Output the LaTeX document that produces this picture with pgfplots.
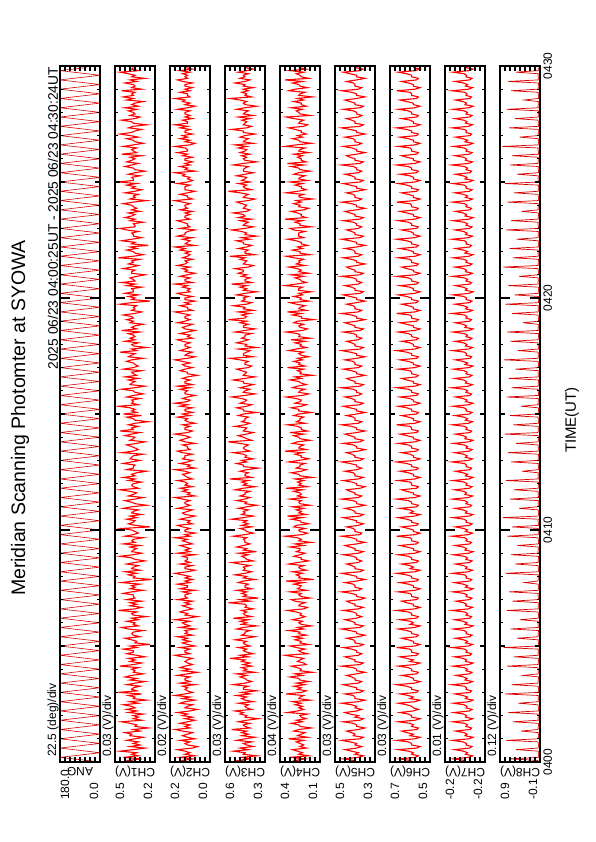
\documentclass[border=0pt]{standalone}
\usepackage{fontspec}
\setmainfont{Liberation Sans}
\usepackage{pgfplots}
\pgfplotsset{compat=1.18}
\usepackage{pgfplotstable}

\pgfplotstableread{
a c1 c2 c3 c4 c5 c6 c7 c8
0 0.35 0.11 0.44 0.24 0.39 0.57 -0.204 -0.06
60 0.39 0.13 0.49 0.29 0.41 0.59 -0.199 -0.05
120 0.31 0.09 0.42 0.21 0.47 0.65 -0.177 0.62
180 0.42 0.14 0.47 0.33 0.38 0.56 -0.207 -0.06
120 0.33 0.08 0.38 0.18 0.35 0.54 -0.215 -0.07
60 0.37 0.12 0.46 0.26 0.40 0.58 -0.201 -0.06
0 0.34 0.10 0.45 0.23 0.38 0.57 -0.205 -0.06
60 0.44 0.12 0.52 0.27 0.42 0.60 -0.197 -0.06
120 0.36 0.15 0.43 0.31 0.46 0.66 -0.179 0.48
180 0.29 0.09 0.48 0.20 0.39 0.55 -0.209 -0.05
120 0.38 0.07 0.40 0.25 0.36 0.53 -0.214 -0.06
60 0.32 0.11 0.44 0.22 0.40 0.58 -0.202 -0.07
0 0.36 0.12 0.46 0.25 0.39 0.58 -0.203 -0.06
60 0.33 0.10 0.41 0.28 0.43 0.60 -0.196 -0.05
120 0.40 0.14 0.50 0.22 0.48 0.67 -0.175 0.71
180 0.35 0.08 0.45 0.34 0.37 0.56 -0.208 -0.06
120 0.30 0.11 0.39 0.19 0.35 0.53 -0.216 -0.06
60 0.38 0.13 0.47 0.27 0.41 0.59 -0.200 -0.07
0 0.37 0.11 0.43 0.24 0.40 0.57 -0.204 -0.06
60 0.41 0.09 0.47 0.21 0.42 0.61 -0.198 -0.06
120 0.32 0.13 0.44 0.30 0.45 0.64 -0.181 0.35
180 0.36 0.16 0.53 0.26 0.38 0.55 -0.210 -0.05
120 0.27 0.10 0.42 0.16 0.34 0.54 -0.213 -0.06
60 0.35 0.12 0.45 0.25 0.39 0.58 -0.202 -0.06
0 0.34 0.10 0.46 0.26 0.39 0.57 -0.205 -0.07
60 0.38 0.14 0.42 0.32 0.41 0.59 -0.199 -0.06
120 0.43 0.11 0.49 0.23 0.47 0.66 -0.176 0.55
180 0.31 0.08 0.44 0.28 0.37 0.56 -0.207 -0.06
120 0.36 0.12 0.37 0.20 0.35 0.53 -0.215 -0.05
60 0.33 0.09 0.45 0.24 0.40 0.58 -0.201 -0.06
0 0.36 0.13 0.44 0.25 0.38 0.58 -0.203 -0.06
60 0.30 0.11 0.48 0.19 0.43 0.60 -0.197 -0.06
120 0.39 0.15 0.46 0.35 0.46 0.65 -0.178 0.66
180 0.34 0.10 0.51 0.27 0.39 0.57 -0.209 -0.06
120 0.40 0.07 0.41 0.22 0.36 0.54 -0.214 -0.07
60 0.35 0.12 0.44 0.26 0.40 0.57 -0.202 -0.06
0 0.37 0.11 0.45 0.23 0.39 0.58 -0.204 -0.06
60 0.42 0.09 0.43 0.29 0.42 0.61 -0.198 -0.05
120 0.33 0.14 0.49 0.24 0.48 0.66 -0.177 0.42
180 0.38 0.12 0.40 0.31 0.38 0.56 -0.208 -0.06
120 0.28 0.08 0.45 0.17 0.34 0.53 -0.216 -0.06
60 0.36 0.13 0.47 0.26 0.40 0.59 -0.201 -0.06
0 0.35 0.10 0.44 0.25 0.40 0.57 -0.205 -0.06
60 0.39 0.16 0.50 0.22 0.41 0.60 -0.196 -0.06
120 0.31 0.12 0.42 0.36 0.46 0.65 -0.180 0.74
180 0.45 0.09 0.47 0.24 0.37 0.55 -0.210 -0.05
120 0.34 0.11 0.38 0.20 0.35 0.54 -0.213 -0.06
60 0.37 0.12 0.46 0.27 0.39 0.58 -0.202 -0.07
0 0.36 0.11 0.46 0.24 0.39 0.58 -0.203 -0.06
60 0.32 0.13 0.43 0.30 0.43 0.61 -0.199 -0.06
120 0.40 0.08 0.52 0.21 0.47 0.67 -0.174 0.58
180 0.35 0.14 0.45 0.28 0.38 0.56 -0.207 -0.06
120 0.29 0.10 0.41 0.18 0.36 0.53 -0.215 -0.05
60 0.38 0.12 0.44 0.25 0.40 0.57 -0.200 -0.06
0 0.34 0.12 0.45 0.26 0.40 0.57 -0.204 -0.06
60 0.41 0.10 0.48 0.33 0.42 0.59 -0.197 -0.07
120 0.37 0.15 0.44 0.23 0.45 0.64 -0.182 0.30
180 0.30 0.11 0.50 0.29 0.39 0.55 -0.209 -0.06
120 0.36 0.07 0.39 0.15 0.34 0.54 -0.214 -0.06
60 0.35 0.13 0.46 0.25 0.39 0.58 -0.202 -0.06
0 0.37 0.10 0.44 0.24 0.39 0.58 -0.205 -0.06
60 0.33 0.14 0.47 0.27 0.41 0.60 -0.198 -0.05
120 0.44 0.12 0.41 0.32 0.48 0.66 -0.176 0.69
180 0.36 0.09 0.46 0.20 0.37 0.56 -0.208 -0.06
120 0.31 0.11 0.42 0.22 0.35 0.53 -0.216 -0.06
60 0.38 0.12 0.47 0.27 0.40 0.59 -0.201 -0.06
0 0.35 0.11 0.45 0.25 0.40 0.57 -0.203 -0.07
60 0.39 0.09 0.54 0.22 0.43 0.61 -0.196 -0.06
120 0.29 0.13 0.43 0.30 0.46 0.65 -0.179 0.52
180 0.34 0.16 0.48 0.37 0.38 0.55 -0.210 -0.06
120 0.40 0.10 0.40 0.19 0.36 0.54 -0.213 -0.05
60 0.36 0.12 0.44 0.24 0.39 0.58 -0.202 -0.06
0 0.36 0.12 0.46 0.26 0.39 0.58 -0.204 -0.06
60 0.42 0.10 0.44 0.21 0.42 0.59 -0.199 -0.06
120 0.34 0.14 0.49 0.28 0.47 0.67 -0.175 0.77
180 0.38 0.08 0.42 0.33 0.37 0.56 -0.207 -0.06
120 0.26 0.11 0.45 0.18 0.35 0.53 -0.215 -0.07
60 0.35 0.13 0.46 0.25 0.40 0.57 -0.201 -0.06
0 0.34 0.10 0.44 0.24 0.40 0.57 -0.205 -0.06
60 0.37 0.13 0.51 0.29 0.41 0.60 -0.197 -0.06
120 0.41 0.11 0.45 0.23 0.45 0.64 -0.181 0.45
180 0.32 0.15 0.39 0.30 0.38 0.55 -0.209 -0.05
120 0.36 0.09 0.47 0.20 0.34 0.54 -0.214 -0.06
60 0.37 0.12 0.45 0.26 0.39 0.58 -0.202 -0.06
0 0.36 0.11 0.45 0.25 0.39 0.58 -0.203 -0.06
60 0.30 0.12 0.42 0.34 0.43 0.61 -0.198 -0.07
120 0.39 0.08 0.50 0.22 0.48 0.66 -0.177 0.61
180 0.43 0.14 0.46 0.27 0.37 0.56 -0.208 -0.06
120 0.33 0.10 0.38 0.16 0.35 0.53 -0.216 -0.06
60 0.36 0.12 0.47 0.24 0.40 0.59 -0.200 -0.05
0 0.35 0.13 0.44 0.26 0.40 0.57 -0.204 -0.06
60 0.40 0.10 0.48 0.23 0.42 0.59 -0.196 -0.06
120 0.33 0.16 0.43 0.31 0.46 0.65 -0.180 0.38
180 0.37 0.11 0.52 0.25 0.39 0.55 -0.210 -0.06
120 0.28 0.07 0.41 0.21 0.36 0.54 -0.213 -0.06
60 0.36 0.12 0.45 0.25 0.39 0.58 -0.202 -0.07
0 0.37 0.11 0.46 0.24 0.39 0.58 -0.205 -0.06
60 0.34 0.14 0.44 0.28 0.41 0.60 -0.199 -0.05
120 0.45 0.12 0.47 0.35 0.47 0.67 -0.174 0.70
180 0.35 0.09 0.40 0.22 0.38 0.56 -0.207 -0.06
120 0.31 0.11 0.45 0.19 0.35 0.53 -0.215 -0.06
60 0.38 0.13 0.44 0.26 0.40 0.57 -0.201 -0.06
0 0.34 0.10 0.45 0.25 0.40 0.57 -0.203 -0.06
60 0.38 0.12 0.55 0.21 0.43 0.61 -0.197 -0.06
120 0.31 0.09 0.42 0.29 0.45 0.64 -0.182 0.56
180 0.40 0.15 0.48 0.32 0.37 0.55 -0.209 -0.07
120 0.35 0.11 0.37 0.17 0.34 0.54 -0.214 -0.06
60 0.36 0.12 0.46 0.24 0.39 0.58 -0.202 -0.06
0 0.36 0.12 0.44 0.26 0.39 0.58 -0.204 -0.05
60 0.42 0.10 0.47 0.24 0.42 0.59 -0.198 -0.06
120 0.37 0.13 0.44 0.33 0.48 0.66 -0.176 0.64
180 0.30 0.08 0.50 0.20 0.38 0.56 -0.208 -0.06
120 0.38 0.14 0.41 0.27 0.36 0.53 -0.216 -0.06
60 0.35 0.11 0.45 0.25 0.40 0.57 -0.201 -0.07
0 0.37 0.11 0.45 0.24 0.40 0.57 -0.205 -0.06
60 0.32 0.15 0.43 0.30 0.41 0.60 -0.196 -0.06
120 0.43 0.10 0.49 0.22 0.46 0.65 -0.179 0.27
180 0.36 0.12 0.46 0.36 0.39 0.55 -0.210 -0.05
120 0.25 0.09 0.39 0.14 0.34 0.54 -0.213 -0.06
60 0.36 0.12 0.46 0.26 0.39 0.58 -0.202 -0.06
0 0.35 0.10 0.44 0.25 0.39 0.58 -0.203 -0.06
60 0.39 0.13 0.51 0.28 0.43 0.61 -0.199 -0.06
120 0.34 0.16 0.45 0.23 0.48 0.67 -0.175 0.73
180 0.41 0.11 0.41 0.31 0.37 0.56 -0.207 -0.06
120 0.32 0.08 0.46 0.20 0.35 0.53 -0.215 -0.07
60 0.37 0.12 0.45 0.25 0.40 0.59 -0.201 -0.06
0 0.36 0.12 0.46 0.26 0.40 0.57 -0.204 -0.06
60 0.33 0.09 0.42 0.22 0.42 0.59 -0.197 -0.05
120 0.40 0.14 0.48 0.34 0.45 0.64 -0.181 0.50
180 0.35 0.10 0.53 0.27 0.38 0.55 -0.209 -0.06
120 0.29 0.12 0.40 0.18 0.36 0.54 -0.214 -0.06
60 0.35 0.11 0.44 0.24 0.39 0.58 -0.202 -0.06
0 0.37 0.11 0.45 0.24 0.39 0.58 -0.205 -0.07
60 0.44 0.13 0.47 0.30 0.41 0.60 -0.198 -0.06
120 0.36 0.08 0.43 0.25 0.47 0.66 -0.177 0.60
180 0.31 0.15 0.49 0.21 0.38 0.56 -0.208 -0.06
120 0.37 0.10 0.38 0.28 0.35 0.53 -0.216 -0.05
60 0.36 0.12 0.46 0.25 0.40 0.57 -0.200 -0.06
0 0.34 0.10 0.44 0.25 0.40 0.57 -0.203 -0.06
60 0.38 0.12 0.50 0.33 0.43 0.61 -0.196 -0.06
120 0.32 0.14 0.46 0.22 0.46 0.65 -0.180 0.44
180 0.42 0.09 0.42 0.29 0.39 0.55 -0.210 -0.06
120 0.35 0.11 0.45 0.16 0.34 0.54 -0.213 -0.07
60 0.37 0.13 0.45 0.26 0.39 0.58 -0.202 -0.06
0 0.36 0.11 0.46 0.24 0.39 0.58 -0.204 -0.06
60 0.30 0.16 0.44 0.27 0.42 0.59 -0.199 -0.05
120 0.41 0.10 0.52 0.37 0.48 0.67 -0.174 0.68
180 0.36 0.12 0.45 0.23 0.37 0.56 -0.207 -0.06
120 0.33 0.08 0.40 0.19 0.36 0.53 -0.215 -0.06
60 0.35 0.12 0.44 0.25 0.40 0.57 -0.201 -0.06
0 0.37 0.12 0.45 0.26 0.40 0.57 -0.205 -0.06
60 0.43 0.10 0.48 0.21 0.41 0.60 -0.197 -0.06
120 0.26 0.13 0.41 0.30 0.45 0.64 -0.181 0.57
180 0.35 0.15 0.47 0.28 0.38 0.55 -0.209 -0.07
120 0.39 0.09 0.43 0.18 0.35 0.54 -0.214 -0.06
60 0.36 0.11 0.46 0.24 0.39 0.58 -0.202 -0.06
0 0.35 0.10 0.44 0.25 0.39 0.58 -0.203 -0.05
60 0.40 0.14 0.53 0.32 0.43 0.61 -0.198 -0.06
120 0.34 0.11 0.46 0.23 0.47 0.66 -0.176 0.79
180 0.38 0.08 0.40 0.35 0.37 0.56 -0.208 -0.06
120 0.31 0.12 0.47 0.20 0.35 0.53 -0.216 -0.06
60 0.37 0.13 0.45 0.26 0.40 0.59 -0.201 -0.07
0 0.36 0.11 0.46 0.24 0.40 0.57 -0.204 -0.06
60 0.33 0.09 0.43 0.28 0.42 0.59 -0.196 -0.06
120 0.42 0.15 0.49 0.22 0.46 0.65 -0.180 0.40
180 0.37 0.12 0.44 0.31 0.39 0.55 -0.210 -0.05
120 0.28 0.10 0.38 0.17 0.34 0.54 -0.213 -0.06
60 0.35 0.12 0.45 0.25 0.39 0.58 -0.202 -0.06
0 0.37 0.12 0.44 0.26 0.39 0.58 -0.205 -0.06
60 0.41 0.10 0.50 0.24 0.41 0.60 -0.199 -0.06
120 0.35 0.13 0.45 0.33 0.48 0.67 -0.175 0.63
180 0.30 0.16 0.42 0.21 0.38 0.56 -0.207 -0.07
120 0.39 0.08 0.48 0.27 0.36 0.53 -0.215 -0.06
60 0.36 0.11 0.45 0.24 0.40 0.57 -0.200 -0.06
0 0.34 0.10 0.45 0.25 0.40 0.57 -0.203 -0.06
60 0.38 0.13 0.42 0.30 0.43 0.61 -0.197 -0.05
120 0.44 0.11 0.51 0.23 0.45 0.64 -0.179 0.53
180 0.33 0.14 0.46 0.36 0.37 0.55 -0.209 -0.06
120 0.36 0.09 0.39 0.19 0.34 0.54 -0.214 -0.06
60 0.37 0.12 0.46 0.26 0.39 0.58 -0.202 -0.06
0 0.36 0.11 0.44 0.24 0.39 0.58 -0.204 -0.07
60 0.31 0.12 0.47 0.27 0.42 0.59 -0.198 -0.06
120 0.39 0.15 0.43 0.22 0.47 0.66 -0.176 0.72
180 0.35 0.09 0.54 0.29 0.38 0.56 -0.208 -0.06
120 0.42 0.11 0.41 0.15 0.35 0.53 -0.216 -0.05
60 0.35 0.12 0.45 0.25 0.40 0.57 -0.201 -0.06
0 0.37 0.13 0.45 0.26 0.40 0.57 -0.205 -0.06
60 0.34 0.10 0.43 0.32 0.41 0.60 -0.196 -0.06
120 0.28 0.12 0.48 0.24 0.46 0.65 -0.181 0.33
180 0.40 0.16 0.44 0.20 0.39 0.55 -0.210 -0.06
120 0.36 0.08 0.37 0.28 0.36 0.54 -0.213 -0.07
60 0.36 0.11 0.46 0.25 0.39 0.58 -0.202 -0.06
0 0.35 0.10 0.46 0.25 0.39 0.58 -0.203 -0.06
60 0.42 0.14 0.50 0.21 0.43 0.61 -0.199 -0.06
120 0.37 0.11 0.44 0.34 0.48 0.67 -0.174 0.59
180 0.32 0.09 0.47 0.26 0.37 0.56 -0.207 -0.05
120 0.38 0.13 0.40 0.18 0.35 0.53 -0.215 -0.06
60 0.37 0.12 0.45 0.24 0.40 0.57 -0.201 -0.06
0 0.36 0.12 0.44 0.24 0.40 0.57 -0.204 -0.06
60 0.30 0.09 0.46 0.29 0.42 0.59 -0.197 -0.07
120 0.43 0.13 0.52 0.23 0.45 0.64 -0.180 0.67
180 0.36 0.15 0.42 0.37 0.38 0.55 -0.209 -0.06
120 0.33 0.10 0.45 0.20 0.34 0.54 -0.214 -0.06
60 0.35 0.11 0.46 0.26 0.39 0.58 -0.202 -0.06
0 0.37 0.11 0.45 0.25 0.39 0.58 -0.205 -0.05
60 0.40 0.13 0.43 0.22 0.41 0.60 -0.198 -0.06
120 0.34 0.08 0.48 0.31 0.47 0.66 -0.177 0.47
180 0.29 0.12 0.55 0.27 0.37 0.56 -0.208 -0.06
120 0.38 0.14 0.41 0.17 0.35 0.53 -0.216 -0.06
60 0.36 0.12 0.44 0.25 0.40 0.57 -0.200 -0.07
0 0.35 0.10 0.46 0.26 0.40 0.57 -0.203 -0.06
60 0.41 0.12 0.49 0.30 0.43 0.61 -0.196 -0.06
120 0.37 0.16 0.44 0.22 0.46 0.65 -0.181 0.75
180 0.32 0.11 0.40 0.33 0.39 0.55 -0.210 -0.05
120 0.44 0.09 0.46 0.19 0.34 0.54 -0.213 -0.06
60 0.36 0.12 0.45 0.24 0.39 0.58 -0.202 -0.06
0 0.37 0.12 0.44 0.24 0.39 0.58 -0.204 -0.06
60 0.33 0.10 0.51 0.27 0.42 0.59 -0.199 -0.06
120 0.39 0.13 0.45 0.35 0.48 0.67 -0.175 0.54
180 0.35 0.08 0.42 0.21 0.38 0.56 -0.207 -0.07
120 0.27 0.11 0.47 0.28 0.36 0.53 -0.215 -0.06
60 0.35 0.12 0.45 0.25 0.40 0.57 -0.201 -0.06
0 0.36 0.11 0.45 0.25 0.40 0.57 -0.205 -0.06
60 0.40 0.15 0.43 0.22 0.41 0.60 -0.197 -0.05
120 0.31 0.10 0.49 0.30 0.45 0.64 -0.180 0.62
180 0.42 0.13 0.46 0.26 0.39 0.55 -0.209 -0.06
120 0.34 0.09 0.38 0.16 0.34 0.54 -0.214 -0.06
60 0.37 0.12 0.46 0.26 0.39 0.58 -0.202 -0.06
0 0.35 0.12 0.46 0.26 0.39 0.58 -0.203 -0.07
60 0.38 0.09 0.50 0.32 0.43 0.61 -0.198 -0.06
120 0.45 0.14 0.44 0.24 0.47 0.66 -0.176 0.36
180 0.33 0.11 0.41 0.20 0.37 0.56 -0.208 -0.06
120 0.37 0.16 0.48 0.29 0.35 0.53 -0.216 -0.05
60 0.36 0.11 0.45 0.25 0.40 0.57 -0.201 -0.06
0 0.37 0.10 0.44 0.24 0.40 0.57 -0.204 -0.06
60 0.32 0.13 0.47 0.28 0.42 0.59 -0.196 -0.06
120 0.40 0.11 0.53 0.36 0.46 0.65 -0.181 0.70
180 0.36 0.08 0.45 0.23 0.38 0.55 -0.210 -0.06
120 0.30 0.12 0.39 0.18 0.36 0.54 -0.213 -0.07
60 0.35 0.12 0.46 0.26 0.39 0.58 -0.202 -0.06
0 0.36 0.11 0.45 0.25 0.39 0.58 -0.205 -0.06
60 0.43 0.14 0.42 0.21 0.41 0.60 -0.199 -0.05
120 0.35 0.10 0.48 0.31 0.48 0.67 -0.174 0.58
180 0.29 0.15 0.44 0.27 0.37 0.56 -0.207 -0.06
120 0.38 0.09 0.40 0.20 0.35 0.53 -0.215 -0.06
60 0.37 0.12 0.46 0.24 0.40 0.57 -0.201 -0.06
0 0.35 0.12 0.46 0.26 0.40 0.57 -0.203 -0.06
60 0.39 0.10 0.52 0.33 0.43 0.61 -0.197 -0.07
120 0.33 0.13 0.45 0.24 0.45 0.64 -0.180 0.65
180 0.41 0.11 0.39 0.29 0.39 0.55 -0.209 -0.06
120 0.34 0.07 0.46 0.15 0.34 0.54 -0.214 -0.06
60 0.36 0.11 0.45 0.25 0.39 0.58 -0.202 -0.06
0 0.37 0.11 0.44 0.24 0.39 0.58 -0.204 -0.05
60 0.31 0.14 0.47 0.27 0.42 0.59 -0.198 -0.06
120 0.42 0.12 0.50 0.22 0.47 0.66 -0.177 0.49
180 0.36 0.09 0.43 0.35 0.38 0.56 -0.208 -0.06
120 0.33 0.12 0.41 0.21 0.36 0.53 -0.216 -0.06
60 0.35 0.13 0.45 0.26 0.40 0.57 -0.200 -0.07
0 0.36 0.10 0.45 0.25 0.40 0.57 -0.205 -0.06
60 0.40 0.13 0.43 0.30 0.41 0.60 -0.196 -0.06
120 0.37 0.16 0.48 0.23 0.46 0.65 -0.181 0.76
180 0.30 0.11 0.54 0.27 0.39 0.55 -0.210 -0.05
120 0.39 0.08 0.40 0.18 0.34 0.54 -0.213 -0.06
60 0.37 0.12 0.46 0.24 0.39 0.58 -0.202 -0.06
0 0.35 0.11 0.46 0.26 0.39 0.58 -0.203 -0.06
60 0.44 0.09 0.44 0.22 0.43 0.61 -0.199 -0.06
120 0.34 0.14 0.42 0.34 0.48 0.67 -0.175 0.43
180 0.37 0.12 0.49 0.28 0.37 0.56 -0.207 -0.07
120 0.28 0.10 0.38 0.20 0.35 0.53 -0.215 -0.06
60 0.36 0.12 0.45 0.25 0.40 0.57 -0.201 -0.06
0 0.37 0.12 0.44 0.24 0.40 0.57 -0.204 -0.06
60 0.33 0.10 0.50 0.29 0.42 0.59 -0.197 -0.05
120 0.41 0.13 0.46 0.21 0.45 0.64 -0.180 0.61
180 0.35 0.15 0.43 0.32 0.38 0.55 -0.209 -0.06
120 0.38 0.09 0.47 0.17 0.36 0.54 -0.214 -0.06
60 0.35 0.11 0.45 0.26 0.39 0.58 -0.202 -0.06
0 0.36 0.10 0.45 0.25 0.39 0.58 -0.205 -0.07
60 0.39 0.14 0.41 0.27 0.41 0.60 -0.198 -0.06
120 0.32 0.11 0.51 0.36 0.47 0.66 -0.176 0.69
180 0.43 0.08 0.45 0.23 0.37 0.56 -0.208 -0.06
120 0.34 0.12 0.39 0.19 0.35 0.53 -0.216 -0.05
60 0.37 0.13 0.46 0.25 0.40 0.57 -0.200 -0.06
0 0.35 0.11 0.46 0.26 0.40 0.57 -0.203 -0.06
60 0.30 0.09 0.43 0.22 0.43 0.61 -0.196 -0.06
120 0.38 0.15 0.48 0.30 0.46 0.65 -0.181 0.31
180 0.36 0.12 0.44 0.27 0.39 0.55 -0.210 -0.06
120 0.40 0.10 0.55 0.14 0.34 0.54 -0.213 -0.07
60 0.36 0.12 0.45 0.24 0.39 0.58 -0.202 -0.06
0 0.37 0.12 0.44 0.24 0.39 0.58 -0.204 -0.06
60 0.42 0.10 0.47 0.31 0.42 0.59 -0.199 -0.05
120 0.35 0.13 0.42 0.24 0.48 0.67 -0.174 0.57
180 0.31 0.16 0.49 0.35 0.38 0.56 -0.207 -0.06
120 0.37 0.09 0.40 0.20 0.36 0.53 -0.215 -0.06
60 0.35 0.11 0.46 0.26 0.40 0.57 -0.201 -0.06
0 0.36 0.11 0.45 0.25 0.40 0.57 -0.205 -0.06
60 0.34 0.14 0.52 0.21 0.41 0.60 -0.197 -0.06
120 0.44 0.10 0.44 0.28 0.45 0.64 -0.180 0.73
180 0.37 0.12 0.41 0.33 0.39 0.55 -0.209 -0.07
120 0.26 0.08 0.47 0.18 0.34 0.54 -0.214 -0.06
60 0.37 0.12 0.45 0.25 0.39 0.58 -0.202 -0.06
0 0.35 0.12 0.46 0.24 0.39 0.58 -0.203 -0.05
60 0.39 0.09 0.43 0.30 0.43 0.61 -0.198 -0.06
120 0.33 0.13 0.50 0.23 0.47 0.66 -0.176 0.51
180 0.41 0.15 0.45 0.26 0.37 0.56 -0.208 -0.06
120 0.36 0.10 0.38 0.16 0.35 0.53 -0.216 -0.06
60 0.36 0.11 0.46 0.26 0.40 0.57 -0.201 -0.06
0 0.37 0.10 0.44 0.26 0.40 0.57 -0.204 -0.07
60 0.31 0.13 0.48 0.23 0.42 0.59 -0.196 -0.06
120 0.40 0.11 0.44 0.37 0.46 0.65 -0.181 0.66
180 0.35 0.16 0.53 0.28 0.38 0.55 -0.210 -0.06
120 0.43 0.09 0.41 0.20 0.36 0.54 -0.213 -0.05
60 0.35 0.12 0.45 0.24 0.39 0.58 -0.202 -0.06
0 0.36 0.12 0.45 0.25 0.39 0.58 -0.205 -0.06
60 0.38 0.10 0.42 0.29 0.41 0.60 -0.199 -0.06
120 0.34 0.14 0.47 0.22 0.48 0.67 -0.175 0.40
180 0.29 0.11 0.44 0.32 0.37 0.56 -0.207 -0.06
120 0.37 0.08 0.49 0.18 0.35 0.53 -0.215 -0.07
60 0.37 0.12 0.46 0.26 0.40 0.57 -0.201 -0.06
0 0.35 0.11 0.46 0.24 0.40 0.57 -0.203 -0.06
60 0.42 0.13 0.51 0.27 0.43 0.61 -0.197 -0.05
120 0.37 0.10 0.43 0.34 0.45 0.64 -0.180 0.78
180 0.33 0.15 0.40 0.21 0.39 0.55 -0.209 -0.06
120 0.39 0.12 0.46 0.28 0.34 0.54 -0.214 -0.06
60 0.36 0.11 0.45 0.25 0.39 0.58 -0.202 -0.06
0 0.37 0.12 0.44 0.26 0.39 0.58 -0.204 -0.06
60 0.32 0.09 0.48 0.22 0.42 0.59 -0.198 -0.07
120 0.45 0.13 0.45 0.30 0.47 0.66 -0.177 0.55
180 0.36 0.11 0.54 0.36 0.38 0.56 -0.208 -0.06
120 0.30 0.10 0.39 0.17 0.36 0.53 -0.216 -0.06
60 0.35 0.12 0.45 0.25 0.40 0.57 -0.200 -0.05
0 0.36 0.10 0.45 0.25 0.40 0.57 -0.205 -0.06
60 0.40 0.14 0.43 0.31 0.41 0.60 -0.196 -0.06
120 0.34 0.12 0.49 0.23 0.46 0.65 -0.181 0.63
180 0.38 0.16 0.44 0.27 0.39 0.55 -0.210 -0.06
120 0.27 0.08 0.41 0.19 0.34 0.54 -0.213 -0.07
60 0.37 0.12 0.46 0.24 0.39 0.58 -0.202 -0.06
0 0.35 0.11 0.46 0.24 0.39 0.58 -0.203 -0.06
60 0.43 0.10 0.50 0.28 0.43 0.61 -0.199 -0.06
120 0.37 0.13 0.42 0.35 0.48 0.67 -0.174 0.46
180 0.31 0.09 0.47 0.22 0.37 0.56 -0.207 -0.05
120 0.36 0.15 0.38 0.26 0.35 0.53 -0.215 -0.06
60 0.36 0.12 0.45 0.26 0.40 0.57 -0.201 -0.06
0 0.37 0.12 0.44 0.26 0.40 0.57 -0.204 -0.06
60 0.33 0.11 0.47 0.21 0.42 0.59 -0.197 -0.06
120 0.40 0.08 0.53 0.30 0.45 0.64 -0.180 0.71
180 0.44 0.14 0.45 0.33 0.38 0.55 -0.209 -0.07
120 0.35 0.10 0.40 0.16 0.36 0.54 -0.214 -0.06
60 0.35 0.11 0.46 0.25 0.39 0.58 -0.202 -0.06
0 0.36 0.11 0.45 0.25 0.39 0.58 -0.205 -0.05
60 0.30 0.13 0.43 0.29 0.41 0.60 -0.198 -0.06
120 0.38 0.15 0.48 0.23 0.47 0.66 -0.176 0.60
180 0.35 0.10 0.41 0.37 0.37 0.56 -0.208 -0.06
120 0.41 0.12 0.49 0.20 0.35 0.53 -0.216 -0.06
60 0.37 0.12 0.45 0.24 0.40 0.57 -0.200 -0.06
0 0.35 0.10 0.46 0.24 0.40 0.57 -0.203 -0.07
60 0.39 0.12 0.52 0.27 0.43 0.61 -0.196 -0.06
120 0.32 0.09 0.44 0.32 0.46 0.65 -0.181 0.34
180 0.37 0.14 0.42 0.22 0.39 0.55 -0.210 -0.06
120 0.34 0.11 0.46 0.18 0.34 0.54 -0.213 -0.05
60 0.36 0.12 0.45 0.26 0.39 0.58 -0.202 -0.06
0 0.37 0.12 0.44 0.25 0.39 0.58 -0.204 -0.06
60 0.42 0.10 0.47 0.30 0.42 0.59 -0.199 -0.06
120 0.36 0.13 0.50 0.24 0.48 0.67 -0.175 0.68
180 0.28 0.16 0.43 0.28 0.38 0.56 -0.207 -0.06
120 0.38 0.09 0.39 0.15 0.36 0.53 -0.215 -0.07
60 0.35 0.11 0.46 0.25 0.40 0.57 -0.201 -0.06
0 0.36 0.11 0.45 0.26 0.40 0.57 -0.205 -0.06
60 0.33 0.14 0.43 0.22 0.41 0.60 -0.197 -0.05
120 0.41 0.11 0.48 0.36 0.45 0.64 -0.180 0.52
180 0.35 0.08 0.55 0.27 0.39 0.55 -0.209 -0.06
120 0.31 0.12 0.41 0.20 0.34 0.54 -0.214 -0.06
60 0.37 0.12 0.45 0.24 0.39 0.58 -0.202 -0.06
0 0.35 0.12 0.46 0.24 0.39 0.58 -0.203 -0.06
60 0.40 0.10 0.44 0.29 0.43 0.61 -0.198 -0.07
120 0.34 0.15 0.49 0.23 0.47 0.66 -0.176 0.74
180 0.45 0.11 0.42 0.33 0.37 0.56 -0.208 -0.06
120 0.36 0.09 0.47 0.19 0.35 0.53 -0.216 -0.06
60 0.36 0.11 0.45 0.26 0.40 0.57 -0.200 -0.05
0 0.37 0.10 0.44 0.25 0.40 0.57 -0.204 -0.06
60 0.32 0.13 0.50 0.21 0.42 0.59 -0.196 -0.06
120 0.39 0.12 0.45 0.30 0.46 0.65 -0.181 0.45
180 0.35 0.16 0.40 0.26 0.38 0.55 -0.210 -0.06
120 0.29 0.08 0.46 0.17 0.36 0.54 -0.213 -0.07
60 0.35 0.12 0.46 0.25 0.39 0.58 -0.202 -0.06
0 0.36 0.11 0.45 0.26 0.39 0.58 -0.205 -0.06
60 0.41 0.14 0.43 0.32 0.41 0.60 -0.199 -0.06
120 0.37 0.10 0.52 0.22 0.48 0.67 -0.174 0.62
180 0.33 0.12 0.46 0.35 0.37 0.56 -0.207 -0.05
120 0.40 0.09 0.38 0.20 0.35 0.53 -0.215 -0.06
60 0.37 0.12 0.45 0.24 0.40 0.57 -0.201 -0.06
0 0.35 0.12 0.46 0.24 0.40 0.57 -0.203 -0.06
60 0.38 0.09 0.44 0.27 0.43 0.61 -0.197 -0.06
120 0.31 0.13 0.47 0.23 0.45 0.64 -0.180 0.57
180 0.43 0.11 0.42 0.30 0.39 0.55 -0.209 -0.07
120 0.34 0.15 0.48 0.18 0.34 0.54 -0.214 -0.06
60 0.36 0.11 0.45 0.26 0.39 0.58 -0.202 -0.06
0 0.37 0.11 0.44 0.25 0.39 0.58 -0.204 -0.05
60 0.34 0.12 0.49 0.21 0.42 0.59 -0.198 -0.06
120 0.42 0.16 0.44 0.37 0.47 0.66 -0.177 0.80
180 0.36 0.10 0.51 0.28 0.38 0.56 -0.208 -0.06
120 0.30 0.08 0.40 0.16 0.36 0.53 -0.216 -0.06
60 0.35 0.12 0.46 0.25 0.40 0.57 -0.200 -0.07
0 0.36 0.10 0.45 0.26 0.40 0.57 -0.205 -0.06
60 0.40 0.14 0.43 0.31 0.41 0.60 -0.196 -0.06
120 0.33 0.11 0.48 0.23 0.46 0.65 -0.181 0.39
180 0.38 0.13 0.45 0.27 0.39 0.55 -0.210 -0.05
120 0.44 0.09 0.39 0.20 0.34 0.54 -0.213 -0.06
60 0.37 0.12 0.46 0.24 0.39 0.58 -0.202 -0.06
0 0.35 0.12 0.46 0.24 0.39 0.58 -0.203 -0.06
60 0.31 0.10 0.53 0.29 0.43 0.61 -0.199 -0.06
120 0.39 0.14 0.44 0.34 0.48 0.67 -0.175 0.64
180 0.36 0.11 0.41 0.22 0.37 0.56 -0.207 -0.07
120 0.28 0.16 0.46 0.19 0.35 0.53 -0.215 -0.06
60 0.36 0.11 0.45 0.26 0.40 0.57 -0.201 -0.06
0 0.37 0.11 0.44 0.25 0.40 0.57 -0.204 -0.06
60 0.43 0.13 0.47 0.22 0.42 0.59 -0.197 -0.05
120 0.35 0.09 0.42 0.30 0.45 0.64 -0.180 0.50
180 0.32 0.12 0.49 0.36 0.38 0.55 -0.209 -0.06
120 0.38 0.10 0.40 0.17 0.36 0.54 -0.214 -0.06
60 0.35 0.12 0.46 0.25 0.39 0.58 -0.202 -0.06
0 0.36 0.12 0.45 0.26 0.39 0.58 -0.205 -0.07
60 0.39 0.10 0.43 0.28 0.41 0.60 -0.198 -0.06
120 0.34 0.15 0.50 0.23 0.47 0.66 -0.176 0.70
180 0.41 0.11 0.45 0.32 0.37 0.56 -0.208 -0.06
120 0.33 0.08 0.38 0.20 0.35 0.53 -0.216 -0.05
60 0.37 0.12 0.45 0.24 0.40 0.57 -0.200 -0.06
0 0.35 0.10 0.46 0.24 0.40 0.57 -0.203 -0.06
60 0.30 0.13 0.44 0.30 0.43 0.61 -0.196 -0.06
120 0.40 0.12 0.48 0.22 0.46 0.65 -0.181 0.28
180 0.36 0.16 0.54 0.27 0.39 0.55 -0.210 -0.06
120 0.42 0.10 0.41 0.15 0.34 0.54 -0.213 -0.07
60 0.36 0.11 0.45 0.26 0.39 0.58 -0.202 -0.06
0 0.37 0.11 0.44 0.25 0.39 0.58 -0.204 -0.06
60 0.35 0.14 0.47 0.21 0.42 0.59 -0.199 -0.06
120 0.43 0.10 0.43 0.34 0.48 0.67 -0.174 0.59
180 0.31 0.12 0.46 0.29 0.38 0.56 -0.207 -0.05
120 0.37 0.09 0.40 0.19 0.36 0.53 -0.215 -0.06
60 0.35 0.12 0.46 0.25 0.40 0.57 -0.201 -0.06
0 0.36 0.12 0.45 0.26 0.40 0.57 -0.205 -0.06
60 0.41 0.09 0.51 0.31 0.41 0.60 -0.197 -0.07
120 0.34 0.13 0.45 0.23 0.45 0.64 -0.180 0.66
180 0.38 0.15 0.42 0.37 0.39 0.55 -0.209 -0.06
120 0.29 0.11 0.48 0.18 0.34 0.54 -0.214 -0.06
60 0.37 0.12 0.45 0.24 0.39 0.58 -0.202 -0.06
0 0.35 0.11 0.46 0.25 0.39 0.58 -0.203 -0.05
60 0.39 0.13 0.43 0.28 0.43 0.61 -0.198 -0.06
120 0.44 0.10 0.49 0.22 0.47 0.66 -0.176 0.48
180 0.33 0.14 0.44 0.33 0.37 0.56 -0.208 -0.06
120 0.37 0.09 0.40 0.20 0.35 0.53 -0.216 -0.06
60 0.36 0.12 0.45 0.26 0.40 0.57 -0.201 -0.06
}\data

\newcommand{\lab}{\fontsize{12}{14}\selectfont}

\pgfplotsset{
  panel/.style={
    scale only axis, width=40pt, height=696pt, anchor=south west,
    ymin=0, ymax=30, x dir=reverse, axis on top, clip=true,
    axis line style={line width=2.2pt},
    every tick/.style={black, line width=1.3pt},
    tick align=inside, xtick pos=both, ytick pos=both,
    ytick={0,5,10,15,20,25,30}, yticklabels={},
    minor ytick={1,2,3,4,6,7,8,9,11,12,13,14,16,17,18,19,21,22,23,24,26,27,28,29},
    major tick length=5pt, minor tick length=3pt,
    extra y ticks={10,20}, extra y tick labels={{},{}},
    extra y tick style={major tick length=10pt},
    xticklabels={},
    xlabel style={at={(axis description cs:0.5,-0.0144)}, anchor=center, rotate=180, font=\lab, inner sep=0pt},
  },
  chan/.style={red, line width=1.1pt},
}

\begin{document}
\begin{tikzpicture}
\useasboundingbox (0pt,0pt) rectangle (595pt,842pt);

\node[rotate=90, font=\fontsize{19.5}{22}\selectfont] at (20pt,424pt) {Meridian Scanning Photomter at SYOWA};
\node[rotate=90, anchor=east, inner sep=0pt, font=\fontsize{13.8}{16}\selectfont] at (53pt,775pt) {2025 06/23 04:00:25UT - 2025 06/23 04:30:24UT};
\node[rotate=90, font=\fontsize{15}{18}\selectfont] at (572pt,422pt) {TIME(UT)};

\begin{scope}[every node/.style={rotate=90, anchor=west, inner sep=0pt, font=\lab}]
\node at (53pt,85pt) {22.5 (deg)/div};
\node at (108pt,85pt) {0.03 (V)/div};
\node at (163pt,85pt) {0.02 (V)/div};
\node at (218pt,85pt) {0.03 (V)/div};
\node at (273pt,85pt) {0.04 (V)/div};
\node at (328pt,85pt) {0.03 (V)/div};
\node at (383pt,85pt) {0.03 (V)/div};
\node at (438pt,85pt) {0.01 (V)/div};
\node at (493pt,85pt) {0.12 (V)/div};
% value-axis end labels
\node at (65pt,42pt) {180.0};  \node at (94pt,42pt) {0.0};
\node at (120pt,42pt) {0.5};   \node at (148pt,42pt) {0.2};
\node at (175pt,42pt) {0.2};   \node at (203pt,42pt) {0.0};
\node at (230pt,42pt) {0.6};   \node at (258pt,42pt) {0.3};
\node at (285pt,42pt) {0.4};   \node at (313pt,42pt) {0.1};
\node at (340pt,42pt) {0.5};   \node at (368pt,42pt) {0.3};
\node at (395pt,42pt) {0.7};   \node at (423pt,42pt) {0.5};
\node at (450pt,42pt) {-0.2};  \node at (478pt,42pt) {-0.2};
\node at (505pt,42pt) {0.9};   \node at (533pt,42pt) {-0.1};
\end{scope}

% ANG
\begin{axis}[panel, at={(60pt,80pt)}, xmin=0, xmax=180,
  xtick={0,22.5,45,67.5,90,112.5,135,157.5,180}, xlabel={ANG}]
\addplot[red!85!black, line width=0.6pt] table[x=a, y expr=\coordindex/15] {\data};
\end{axis}

% CH1
\begin{axis}[panel, at={(115pt,80pt)}, xmin=0.23, xmax=0.47,
  xtick={0.23,0.26,0.29,0.32,0.35,0.38,0.41,0.44,0.47}, xlabel={CH1(V)}]
\addplot[chan] table[x=c1, y expr=\coordindex/15] {\data};
\end{axis}

% CH2
\begin{axis}[panel, at={(170pt,80pt)}, xmin=0.02, xmax=0.18,
  xtick={0.02,0.04,0.06,0.08,0.10,0.12,0.14,0.16,0.18}, xlabel={CH2(V)}]
\addplot[chan] table[x=c2, y expr=\coordindex/15] {\data};
\end{axis}

% CH3
\begin{axis}[panel, at={(225pt,80pt)}, xmin=0.33, xmax=0.57,
  xtick={0.33,0.36,0.39,0.42,0.45,0.48,0.51,0.54,0.57}, xlabel={CH3(V)}]
\addplot[chan] table[x=c3, y expr=\coordindex/15] {\data};
\end{axis}

% CH4
\begin{axis}[panel, at={(280pt,80pt)}, xmin=0.09, xmax=0.41,
  xtick={0.09,0.13,0.17,0.21,0.25,0.29,0.33,0.37,0.41}, xlabel={CH4(V)}]
\addplot[chan] table[x=c4, y expr=\coordindex/15] {\data};
\end{axis}

% CH5
\begin{axis}[panel, at={(335pt,80pt)}, xmin=0.28, xmax=0.52,
  xtick={0.28,0.31,0.34,0.37,0.40,0.43,0.46,0.49,0.52}, xlabel={CH5(V)}]
\addplot[chan] table[x=c5, y expr=\coordindex/15] {\data};
\end{axis}

% CH6
\begin{axis}[panel, at={(390pt,80pt)}, xmin=0.47, xmax=0.71,
  xtick={0.47,0.50,0.53,0.56,0.59,0.62,0.65,0.68,0.71}, xlabel={CH6(V)}]
\addplot[chan] table[x=c6, y expr=\coordindex/15] {\data};
\end{axis}

% CH7
\begin{axis}[panel, at={(445pt,80pt)}, xmin=-0.24, xmax=-0.16,
  xtick={-0.24,-0.23,-0.22,-0.21,-0.20,-0.19,-0.18,-0.17,-0.16}, xlabel={CH7(V)}]
\addplot[chan] table[x=c7, y expr=\coordindex/15] {\data};
\end{axis}

% CH8
\begin{axis}[panel, at={(500pt,80pt)}, xmin=-0.10, xmax=0.86,
  xtick={-0.10,0.02,0.14,0.26,0.38,0.50,0.62,0.74,0.86}, xlabel={CH8(V)},
  yticklabel pos=right, yticklabels={0400,,0410,,0420,,0430},
  yticklabel style={rotate=90, anchor=north, font=\lab}]
\addplot[red!85!black, line width=0.7pt] table[x=c8, y expr=\coordindex/15] {\data};
\end{axis}

\end{tikzpicture}
\end{document}
